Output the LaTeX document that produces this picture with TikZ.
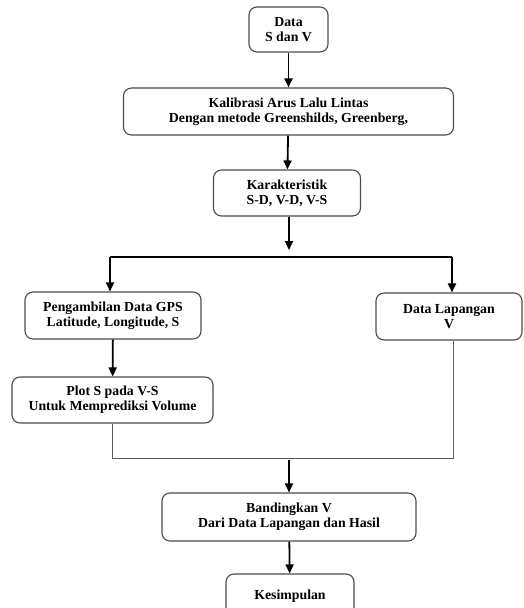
\documentclass[tikz,border=0pt]{standalone}
\usepackage{fontspec}
\setmainfont{Liberation Serif}
\usetikzlibrary{arrows.meta}

\begin{document}
\begin{tikzpicture}[x=1pt,y=-1pt]
        \tikzstyle{every node} = [rectangle, rounded corners=8pt, draw=black!70, line width=1.1pt,
                align=center, font=\bfseries\fontsize{13.8}{15}\selectfont, inner sep=2pt]
        \tikzstyle{arr} = [line width=1.8pt, -{Triangle[length=9pt,width=8pt]}]
        \tikzstyle{link} = [line width=0.9pt, draw=black!65]
        \useasboundingbox (0,0) rectangle (524,608);
        \node[minimum width=79pt, minimum height=45pt] (data) at (288.5,29.5) {Data\\S dan V};
        \node[minimum width=330pt, minimum height=47pt] (kal) at (288.5,111.5) {Kalibrasi Arus Lalu Lintas\\Dengan metode Greenshilds, Greenberg,};
        \node[minimum width=147pt, minimum height=46pt] (kar) at (287,193) {Karakteristik\\S-D, V-D, V-S};
        \node[minimum width=176pt, minimum height=47pt] (gps) at (113,315.5) {Pengambilan Data GPS\\Latitude, Longitude, S};
        \node[minimum width=146pt, minimum height=47pt] (lap) at (449,316.5) {Data Lapangan\\V};
        \node[minimum width=201pt, minimum height=46pt] (plot) at (112.5,400) {Plot S pada V-S\\Untuk Memprediksi Volume};
        \node[minimum width=254pt, minimum height=48pt] (band) at (289,517) {Bandingkan V\\Dari Data Lapangan dan Hasil};
        \node[minimum width=128pt, minimum height=44pt] (kes) at (290,596) {Kesimpulan};
        \coordinate (split) at (289,257);
        \coordinate (sl) at (110,257);
        \coordinate (sr) at (452,257);
        \coordinate (jl) at (112,458);
        \coordinate (jm) at (289,458);
        \coordinate (jr) at (453,458);
        \draw[link, line width=1.2pt, draw=black] (sl) -- (sr);
        \draw[link] (plot.south -| jl) -- (jl) -- (jr) -- (lap.south -| jr);
        \draw[arr, shorten >=7pt] (kar.south -| split) -- (split);
        \foreach \from/\to in {data/kal, kal/kar, gps/plot, band/kes}
            \draw[arr] (\from) -- (\to);
        \draw[arr] (sl) -- (sl |- gps.north);
        \draw[arr] (sr) -- (sr |- lap.north);
        \draw[arr, shorten <=2pt] (jm) -- (band);
    \end{tikzpicture}
\end{document}
